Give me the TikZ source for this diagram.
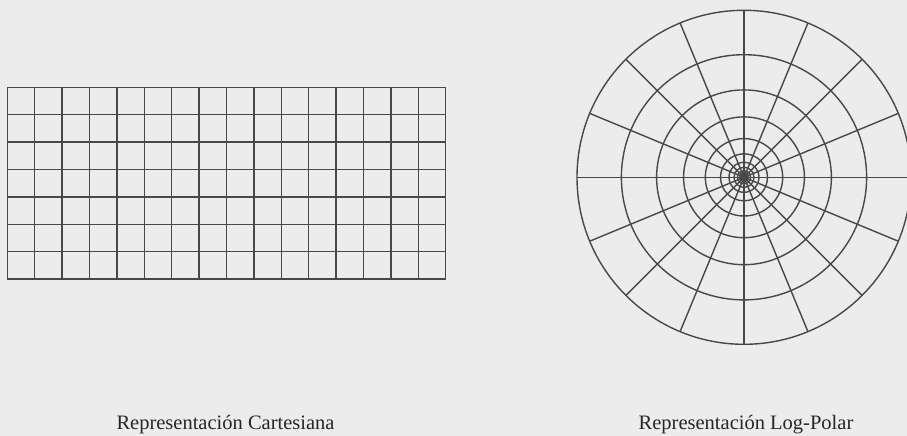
\documentclass[tikz,border=0pt]{standalone}
\usepackage{fontspec}
\setmainfont{Liberation Serif}
\definecolor{bg}{RGB}{236,236,236}
\definecolor{ln}{RGB}{72,72,72}
\begin{document}
\begin{tikzpicture}[x=1pt,y=-1pt,
  gridline/.style={draw=ln,line width=1.4pt},
  caption/.style={font=\fontsize{20.5}{24}\selectfont,text=black!85,anchor=base,inner sep=0pt}]
\fill[bg] (0,0) rectangle (907,436);
\useasboundingbox (0,0) rectangle (907,436);
% Cartesian grid
\foreach \i in {0,...,16} {
  \draw[gridline] ({7.3+27.4*\i},87.3) -- ({7.3+27.4*\i},279.1);
}
\foreach \j in {0,...,7} {
  \draw[gridline] (7.3,{87.3+27.4*\j}) -- (445.7,{87.3+27.4*\j});
}
% Log-polar
\coordinate (c) at (744,177.3);
\begin{scope}
\clip (0,0) rectangle (907,436);
\foreach \r in {167,122.6,87.4,60.4,38.7,23.5,15,10,6.5,4.2,2.7} {
  \draw[gridline] (c) circle[radius=\r];
}
\foreach \a in {0,22.5,...,337.5} {
  \draw[gridline] (c) -- ++(\a:167);
}
\end{scope}
\node[caption] (t1) at (225.5,429.3) {Representación Cartesiana};
\node[caption] (t2) at (746,429.3) {Representación Log-Polar};
\end{tikzpicture}
\end{document}
